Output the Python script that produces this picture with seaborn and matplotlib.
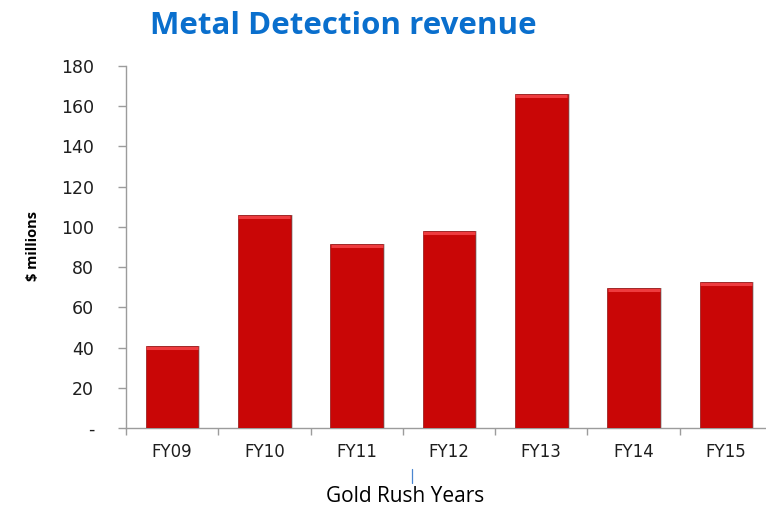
import matplotlib
matplotlib.use("Agg")
import matplotlib.pyplot as plt
import matplotlib.patches as mpatches
import matplotlib.transforms as mtransforms
from matplotlib.lines import Line2D
import seaborn as sns
import pandas as pd

# Revenue by fiscal year ($ millions)
years = ["FY09", "FY10", "FY11", "FY12", "FY13", "FY14", "FY15"]
revenue = [41, 106, 91.5, 98, 166, 69.5, 72.8]
y_ticks = [0, 20, 40, 60, 80, 100, 120, 140, 160, 180]
y_tick_labels = ["-", "20", "40", "60", "80", "100", "120", "140", "160", "180"]

df = pd.DataFrame({"year": years, "revenue": revenue})

sns.set_theme(style="white")
plt.rcParams["font.family"] = ["DejaVu Sans"]

W, H = 766, 508
fig = plt.figure(figsize=(W / 100, H / 100), dpi=100)
ax = fig.add_axes([126 / W, 80 / H, 646 / W, 362 / H])

BAR_RED = "#C90606"
sns.barplot(data=df, x="year", y="revenue", color=BAR_RED, width=0.57,
            saturation=1, ax=ax, zorder=3)

# Bevelled look: soft drop shadow to the right and a bright strip along the top
for bar in list(ax.patches):
    x, y = bar.get_x(), bar.get_y()
    w, h = bar.get_width(), bar.get_height()
    shadow_tf = ax.transData + mtransforms.ScaledTranslation(2 / 100, 0, fig.dpi_scale_trans)
    ax.add_patch(mpatches.Rectangle((x, y), w, h, transform=shadow_tf,
                                    facecolor="#9a9a9a", alpha=0.5,
                                    edgecolor="none", zorder=2))
    bar.set_edgecolor("#8f1010")
    bar.set_linewidth(0.5)
    top_tf = ax.transData + mtransforms.ScaledTranslation(0, -2 / 100, fig.dpi_scale_trans)
    ax.add_line(Line2D([x + 0.004, x + w - 0.004], [y + h, y + h], transform=top_tf,
                       color="#EE3B3E", linewidth=2.2, solid_capstyle="butt", zorder=4))

ax.set_ylim(0, 180)
ax.set_xlim(-0.5, len(years) - 0.5)
ax.set_yticks(y_ticks)
ax.set_yticklabels(y_tick_labels)
ax.set_xticks([i - 0.5 for i in range(len(years) + 1)])
ax.set_xticklabels([""] * (len(years) + 1))
ax.set_xticks(range(len(years)), minor=True)
ax.set_xticklabels(years, minor=True)

ax.set_xlabel("")
ax.set_ylabel("")

for side in ["top", "right"]:
    ax.spines[side].set_visible(False)
for side in ["left", "bottom"]:
    ax.spines[side].set_color("#9c9c9c")
    ax.spines[side].set_linewidth(1.0)

ax.tick_params(axis="y", which="major", direction="out", length=6, width=1,
               color="#9c9c9c", pad=17, labelsize=12.5, labelcolor="#1e1e1e", left=True)
ax.tick_params(axis="x", which="major", direction="out", length=5, width=1,
               color="#9c9c9c", bottom=True)
ax.tick_params(axis="x", which="minor", length=0, pad=11, labelsize=12,
               labelcolor="#1e1e1e", bottom=True)

fig.text(343 / W, 1 - 26 / H, "Metal Detection revenue", color="#0A6FCD",
         fontsize=22.5, fontweight="bold", family="Open Sans", ha="center", va="center")
fig.text(405 / W, 1 - 502 / H, "Gold Rush Years", color="black",
         fontsize=15, family="Open Sans", ha="center", va="baseline")
fig.text(33 / W, 1 - 246 / H, "$ millions", color="black", rotation=90,
         fontsize=10.5, fontweight="bold", family="Open Sans", ha="center", va="center")

# small blue text-box handle above the axis title
fig.add_artist(Line2D([412 / W, 412 / W], [1 - 469 / H, 1 - 483 / H],
                      color="#4a86d0", linewidth=0.9))

fig.savefig("out.png", dpi=100)
